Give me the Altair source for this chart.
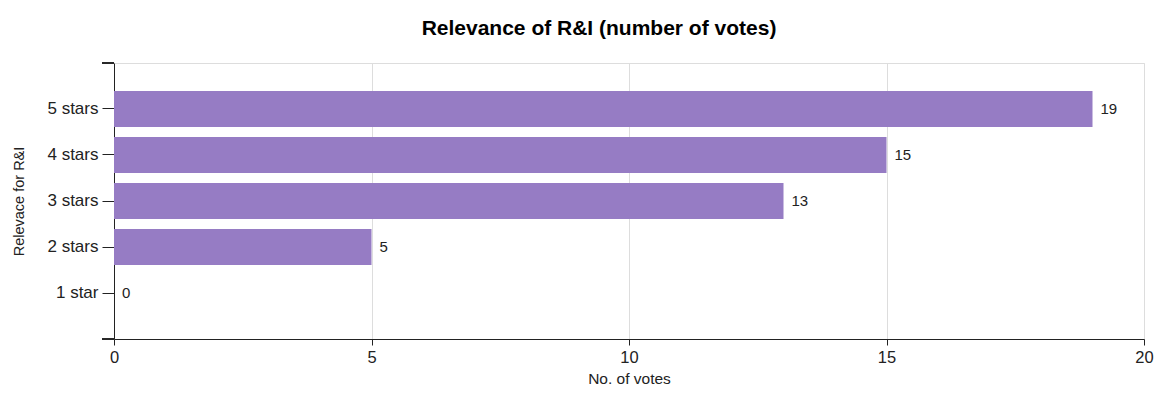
import altair as alt
import pandas as pd

categories = ["5 stars", "4 stars", "3 stars", "2 stars", "1 star"]
votes = [19, 15, 13, 5, 0]

df = pd.DataFrame({"cat": categories, "votes": votes})

FONT = "Liberation Sans"
W, H = 1030, 276

y_enc = alt.Y("cat:N", sort=categories,
              scale=alt.Scale(paddingInner=0.217, paddingOuter=0.608),
              axis=alt.Axis(title="Relevace for R&I", titleFont=FONT, titleFontSize=14.5,
                            titleFontWeight="normal", titleColor="#222", titlePadding=20,
                            labelFont=FONT, labelFontSize=17, labelColor="#222",
                            labelPadding=4, tickSize=12, tickColor="#222",
                            domainColor="#222", grid=False))
x_enc = alt.X("votes:Q", scale=alt.Scale(domain=[0, 20], nice=False),
              axis=alt.Axis(title="No. of votes", titleFont=FONT, titleFontSize=15.5,
                            titleFontWeight="normal", titleColor="#222", titlePadding=6,
                            labelFont=FONT, labelFontSize=16.5, labelColor="#222",
                            labelFlush=False,
                            values=[0, 5, 10, 15, 20], tickSize=6, tickColor="#222",
                            domainColor="#222", gridColor="#dddddd", labelPadding=4))

bars = alt.Chart(df).mark_bar(color="#967cc4").encode(x=x_enc, y=y_enc)
labels = alt.Chart(df).mark_text(align="left", baseline="middle", dx=8, font=FONT,
                                 fontSize=15, color="#222").encode(
    x="votes:Q", y=alt.Y("cat:N", sort=categories), text="votes:Q")

cap_top = alt.Chart(df).mark_rule(color="#222").encode(
    x=alt.value(-12), x2=alt.value(0), y=alt.value(0))
cap_bot = alt.Chart(df).mark_rule(color="#222").encode(
    x=alt.value(-12), x2=alt.value(0), y=alt.value(H))

chart = alt.layer(bars, labels, cap_top, cap_bot).properties(
    width=W, height=H,
    autosize=alt.AutoSizeParams(type="none"),
    padding={"left": 106, "top": 55, "right": 11, "bottom": 47},
    title=alt.TitleParams("Relevance of R&I (number of votes)", font=FONT, fontSize=21,
                          fontWeight="bold", color="#000", offset=24, dx=-30, anchor="middle"),
).configure_view(stroke=None).configure(background="white")

chart.save("out.html", embed_options={"renderer": "svg", "actions": False})
